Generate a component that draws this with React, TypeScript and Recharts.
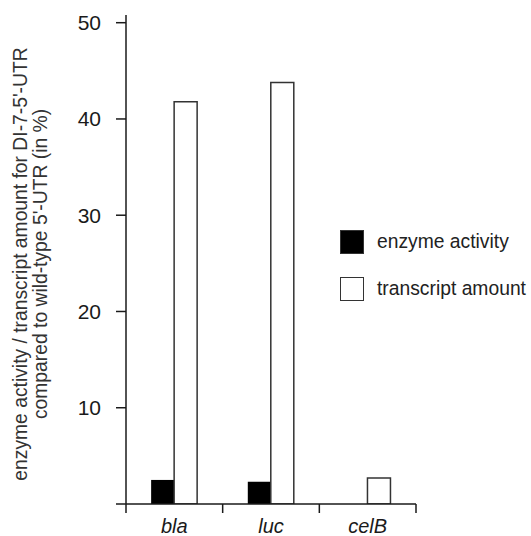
import { BarChart, Bar, XAxis, YAxis } from 'recharts';

const genes = ['bla', 'luc', 'celB'];
const enzymeActivity = [2.5, 2.3, 0];
const transcriptAmount = [41.8, 43.8, 2.7];
const yTicks = [0, 10, 20, 30, 40, 50];

const data = genes.map((gene, i) => ({
  gene,
  enzyme: enzymeActivity[i],
  transcript: transcriptAmount[i],
}));

const font = '"Liberation Sans", Arial, sans-serif';
const ink = '#1a1a1a';

// category label plus a tick mark at the left edge of each band (and the right edge of the last)
function GeneTick(props: any) {
  const { x, y, payload, index, width } = props;
  const band = width / genes.length;
  const left = x - band / 2;
  return (
    <g>
      <line x1={left} y1={y} x2={left} y2={y + 9} stroke={ink} strokeWidth={1.5} />
      {index === genes.length - 1 && (
        <line x1={left + band} y1={y} x2={left + band} y2={y + 9} stroke={ink} strokeWidth={1.5} />
      )}
      <text
        x={x}
        y={y + 29}
        textAnchor="middle"
        fontFamily={font}
        fontSize={20}
        fontStyle="italic"
        fill={ink}
      >
        {payload.value}
      </text>
    </g>
  );
}

function AxisTitle() {
  return (
    <g fontFamily={font} fontSize={19.3} fill="#333" textAnchor="middle">
      <text transform="translate(27, 264) rotate(-90)">
        enzyme activity / transcript amount for DI-7-5'-UTR
      </text>
      <text transform="translate(47, 264) rotate(-90)">
        compared to wild-type 5'-UTR (in %)
      </text>
    </g>
  );
}

const keyRows = [
  { label: 'enzyme activity', fill: '#000' },
  { label: 'transcript amount', fill: '#fff' },
];

function KeyBox() {
  return (
    <div
      style={{
        position: 'absolute',
        left: 340,
        top: 229,
        fontFamily: font,
        fontSize: 19.3,
        color: '#222',
        whiteSpace: 'nowrap',
      }}
    >
      {keyRows.map((r) => (
        <div key={r.label} style={{ display: 'flex', alignItems: 'center', height: 25, marginBottom: 22 }}>
          <div
            style={{
              width: 22,
              height: 22,
              background: r.fill,
              border: '1.5px solid #333',
              marginRight: 13,
            }}
          />
          <span>{r.label}</span>
        </div>
      ))}
    </div>
  );
}

export default function App() {
  return (
    <div style={{ position: 'absolute', left: 0, top: 0, width: 531, height: 536, background: '#fff', overflow: 'hidden' }}>
      <BarChart
        width={531}
        height={536}
        data={data}
        margin={{ top: 15, right: 115, bottom: 0, left: 0 }}
        barCategoryGap="26%"
        barGap={0}
      >
        <XAxis
          dataKey="gene"
          height={32}
          tickLine={false}
          tickSize={0}
          tickMargin={0}
          axisLine={{ stroke: ink, strokeWidth: 1.5 }}
          tick={<GeneTick />}
          interval={0}
        />
        <YAxis
          width={126}
          domain={[0, 50.8]}
          ticks={yTicks}
          tickFormatter={(v: number) => (v === 0 ? '' : String(v))}
          tickSize={10}
          tickMargin={15}
          tick={{ fontFamily: font, fontSize: 21, fill: ink }}
          tickLine={{ stroke: ink, strokeWidth: 1.5 }}
          axisLine={{ stroke: ink, strokeWidth: 1.5 }}
          label={<AxisTitle />}
          allowDataOverflow
        />
        <Bar dataKey="enzyme" fill="#000" isAnimationActive={false} />
        <Bar dataKey="transcript" fill="#fff" stroke="#333" strokeWidth={1.5} isAnimationActive={false} />
      </BarChart>
      <KeyBox />
    </div>
  );
}
